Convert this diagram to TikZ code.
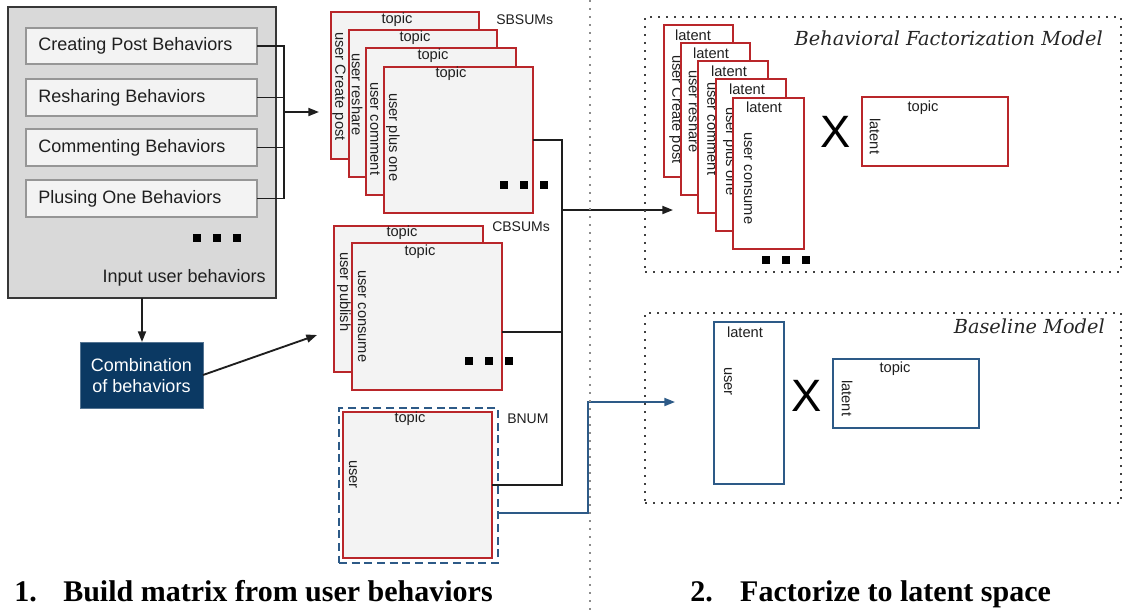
\documentclass[tikz,border=0pt]{standalone}
\usepackage{fontspec}
\setmainfont{Liberation Sans}
\newfontfamily\serifb{Liberation Serif}
\newfontfamily\dvserif{DejaVu Serif}
\usetikzlibrary{arrows.meta,calc}
\definecolor{redc}{RGB}{185,38,42}
\definecolor{matfill}{RGB}{243,243,243}
\definecolor{infill}{RGB}{217,217,217}
\definecolor{inborder}{RGB}{55,55,55}
\definecolor{behborder}{RGB}{150,150,150}
\definecolor{navy}{RGB}{11,57,99}
\definecolor{bluec}{RGB}{45,90,135}
\definecolor{linec}{RGB}{30,30,30}
\newcommand{\matbox}[6]{\node[#6,anchor=north west,minimum width={(#4-#2)*0.75pt},minimum height={(#5-#3)*0.75pt}] (#1) at (#2,#3) {};}
\newcommand{\vlab}[4]{\node[lab,rotate=-90,anchor=west] (#1) at (#2,#3) {#4};}
\newcommand{\hlab}[4]{\node[lab] (#1) at (#2,#3) {#4};}
\newcommand{\sqd}[3]{\node[sqdot] (#1) at (#2,#3) {};}
\tikzset{
  base/.style={inner sep=0pt,outer sep=0pt},
  inbox/.style={base,draw=inborder,fill=infill,line width=1.6pt},
  behbox/.style={base,draw=behborder,fill=matfill,line width=1.3pt},
  redmat/.style={base,draw=redc,fill=matfill,line width=1.4pt},
  redwhite/.style={base,draw=redc,fill=white,line width=1.4pt},
  bluewhite/.style={base,draw=bluec,fill=white,line width=1.4pt},
  bluedash/.style={base,draw=bluec,line width=1.6pt,dash pattern=on 6pt off 3.5pt},
  navybox/.style={base,fill=navy,draw=navy!70!white,line width=0.6pt},
  dotframe/.style={base,draw=black!75,line width=1.5pt,dash pattern=on 1.4pt off 4.6pt},
  lab/.style={inner sep=0pt,text=black!88,font=\fontsize{11}{13}\selectfont},
  btext/.style={inner sep=0pt,anchor=west,text=black!88,font=\fontsize{13.5}{16}\selectfont},
  sqdot/.style={base,fill=black,minimum size=5.5pt},
  conn/.style={draw=linec,line width=1.4pt},
  arr/.style={conn,-{Triangle[length=8pt,width=6pt]}},
  barr/.style={draw=bluec,line width=1.4pt,-{Triangle[length=8pt,width=6pt]}},
  bigx/.style={inner sep=0pt,font=\fontsize{34}{34}\selectfont},
  title/.style={inner sep=0pt,font=\dvserif\itshape\fontsize{14.5}{17}\selectfont,text=black!85},
  sec/.style={inner sep=0pt,anchor=base west,font=\serifb\bfseries\fontsize{22.5}{26}\selectfont}
}
\begin{document}
\begin{tikzpicture}[x=0.75pt,y=-0.75pt]
\useasboundingbox (0,0) rectangle (1135,612);
% ---------- input behaviours ----------
\matbox{inp}{8}{7}{276}{298}{inbox}
\matbox{cp}{26}{28}{257}{64}{behbox}
\matbox{rs}{26}{79}{257}{116}{behbox}
\matbox{cm}{26}{129}{257}{166}{behbox}
\matbox{po}{26}{180}{257}{217}{behbox}
\node[btext] (tcp) at (38,46) {Creating Post Behaviors};
\node[btext] (trs) at (38,97.5) {Resharing Behaviors};
\node[btext] (tcm) at (38,147.5) {Commenting Behaviors};
\node[btext] (tpo) at (38,198.5) {Plusing One Behaviors};
\sqd{d1}{197}{238}\sqd{d2}{217}{238}\sqd{d3}{237}{238}
\node[btext,anchor=east] (tinp) at (266,278) {Input user behaviors};
\coordinate (j1) at (284,112);
\coordinate (a1) at (319,112);
\draw[conn] (cp.east) -| (j1);
\draw[conn] (rs.east) -| (j1);
\draw[conn] (cm.east) -| (j1);
\draw[conn] (po.east) -| (j1);
\draw[arr] (j1) -- (a1);
% ---------- combination ----------
\matbox{comb}{80}{342}{203}{408}{navybox}
\node[inner sep=0pt,text=white,align=center,font=\fontsize{13.5}{15.8}\selectfont] (tcomb) at (141.5,375.5) {Combination\\of behaviors};
\draw[arr] (inp.south) -- (inp.south |- comb.north);
\coordinate (a2) at (317,335);
\draw[arr] (comb.east) -- (a2);
% ---------- SBSUMs ----------
\matbox{s1}{331}{12}{479}{159}{redmat}
\hlab{ts1}{397}{20}{topic}
\vlab{us1}{339}{32}{user Create post}
\matbox{s2}{349}{30}{497}{177}{redmat}
\hlab{ts2}{415}{38}{topic}
\vlab{us2}{357}{53}{user reshare}
\matbox{s3}{366}{48}{516}{195}{redmat}
\hlab{ts3}{433}{56}{topic}
\vlab{us3}{375}{82}{user comment}
\matbox{s4}{384}{67}{533}{213}{redmat}
\hlab{ts4}{451}{74}{topic}
\vlab{us4}{393}{93}{user plus one}
\node[lab,anchor=west,font=\fontsize{10.5}{12}\selectfont] (lsb) at (496,20) {SBSUMs};
\sqd{e1}{504}{185}\sqd{e2}{524}{185}\sqd{e3}{544}{185}
% ---------- CBSUMs ----------
\matbox{c1}{334}{226}{483}{372}{redmat}
\hlab{tc1}{402}{233}{topic}
\vlab{uc1}{344}{252}{user publish}
\matbox{c2}{352}{243}{502}{390}{redmat}
\hlab{tc2}{420}{252}{topic}
\vlab{uc2}{362}{270}{user consume}
\node[lab,anchor=west,font=\fontsize{10.5}{12}\selectfont] (lcb) at (492,227) {CBSUMs};
\sqd{f1}{469}{361}\sqd{f2}{489}{361}\sqd{f3}{509}{361}
% ---------- BNUM ----------
\matbox{bd}{339}{408}{498}{563}{bluedash}
\matbox{bred}{343}{412}{492}{558}{redmat}
\hlab{tb}{410}{419}{topic}
\vlab{ub}{353}{460}{user}
\node[lab,anchor=west,font=\fontsize{10.5}{12}\selectfont] (lbn) at (507,419) {BNUM};
% ---------- connectors to models ----------
\coordinate (j2) at (562,210);
\coordinate (a3) at (673,210);
\draw[conn] (s4.east) -| (j2);
\draw[conn] ($(c2.north east)!0.605!(c2.south east)$) -| (j2);
\draw[conn] (bred.east) -| (j2);
\draw[arr] (j2) -- (a3);
\coordinate (k1) at (588,402);
\coordinate (a4) at (675,402);
\draw[barr] ($(bd.north east)!0.68!(bd.south east)$) -| (k1) -- (a4);
% ---------- divider ----------
\coordinate (dv1) at (590,0);
\coordinate (dv2) at (590,612);
\draw[draw=black!45,line width=1.3pt,dash pattern=on 1.3pt off 4.7pt] (dv1) -- (dv2);
% ---------- Behavioral Factorization Model ----------
\matbox{bfm}{645}{17}{1121}{272}{dotframe}
\node[title,anchor=base east] (tbfm) at (1103,45) {Behavioral Factorization Model};
\matbox{l1}{664}{25}{733}{177}{redwhite}
\hlab{tl1}{693}{35}{latent}
\vlab{ul1}{676}{55}{user Create post}
\matbox{l2}{681}{43}{750}{195}{redwhite}
\hlab{tl2}{711}{53}{latent}
\vlab{ul2}{694}{70}{user reshare}
\matbox{l3}{698}{61}{768}{213}{redwhite}
\hlab{tl3}{729}{71}{latent}
\vlab{ul3}{712}{82}{user comment}
\matbox{l4}{716}{79}{786}{231}{redwhite}
\hlab{tl4}{747}{89}{latent}
\vlab{ul4}{730}{107}{user plus one}
\matbox{l5}{733}{98}{804}{249}{redwhite}
\hlab{tl5}{764}{107}{latent}
\vlab{ul5}{748}{132}{user consume}
\sqd{g1}{766}{260}\sqd{g2}{786}{260}\sqd{g3}{806}{260}
\node[bigx] (x1) at (836,132) {X};
\matbox{tp1}{862}{97}{1008}{166}{redwhite}
\hlab{tt1}{923}{108}{topic}
\vlab{ut1}{875}{118}{latent}
% ---------- Baseline Model ----------
\matbox{bsl}{645}{313}{1121}{503}{dotframe}
\node[title,anchor=base east] (tbsl) at (1105,333) {Baseline Model};
\matbox{bu}{714}{322}{784}{484}{bluewhite}
\hlab{tbu1}{745}{332}{latent}
\vlab{ubu}{728}{367}{user}
\node[bigx] (x2) at (807,396) {X};
\matbox{bt}{833}{359}{979}{428}{bluewhite}
\hlab{tbt}{895}{369}{topic}
\vlab{ubt}{847}{380}{latent}
% ---------- section titles ----------
\node[sec] (sec1) at (14,601) {1.\hspace{19.9pt}Build matrix from user behaviors};
\node[sec] (sec2) at (690,601) {2.\hspace{20.6pt}Factorize to latent space};
\end{tikzpicture}
\end{document}
